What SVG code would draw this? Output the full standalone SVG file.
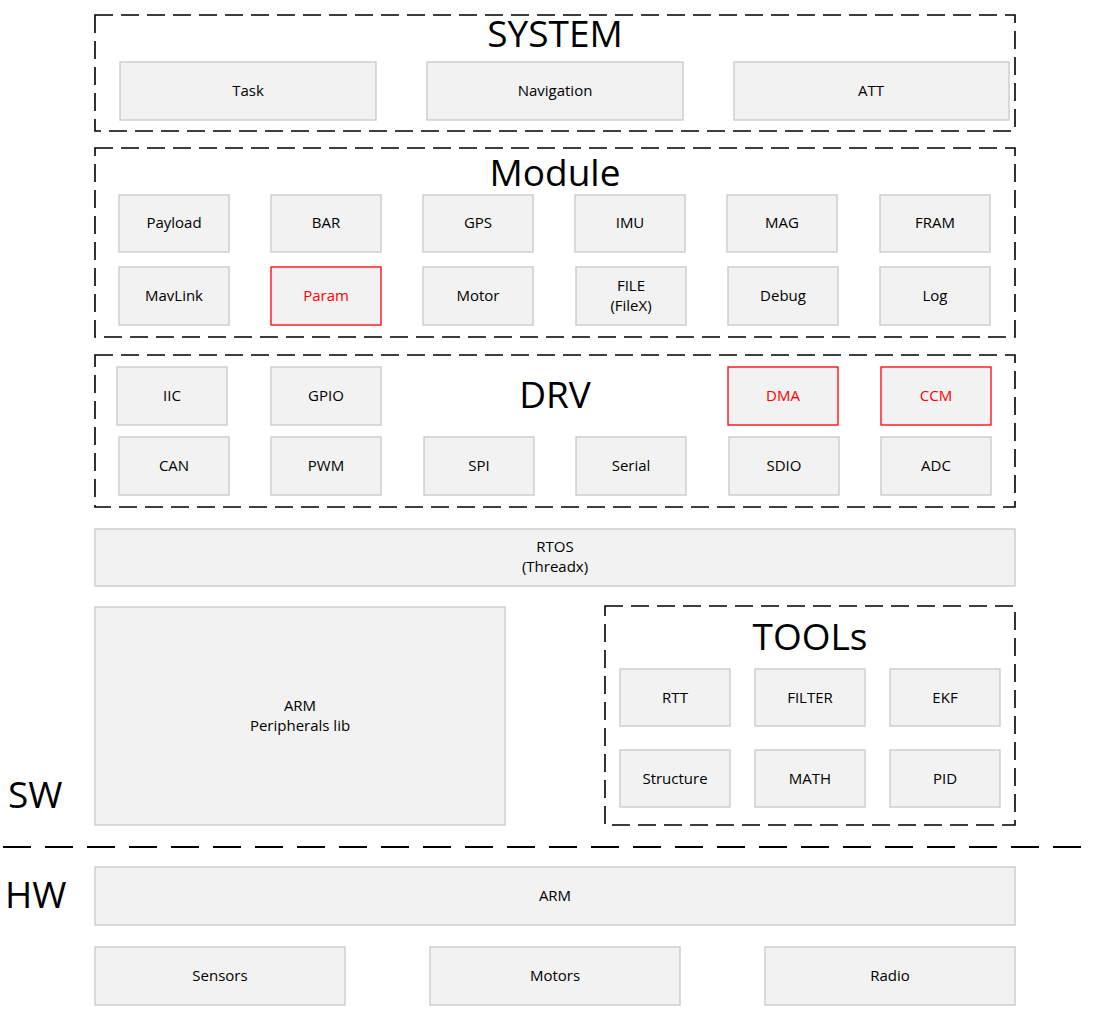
<svg xmlns="http://www.w3.org/2000/svg" width="1097" height="1011" viewBox="0 0 1097 1011">
<style>
.bg{fill:#ffffff}
.box{fill:#f2f2f2;stroke:#c8c8c8;stroke-width:1.3}
.red{fill:#f2f2f2;stroke:#ff0000;stroke-width:1.3}
.grp{fill:none;stroke:#000;stroke-width:1.6;stroke-dasharray:18 8}
.t{font-family:"Open Sans","Liberation Sans",sans-serif;font-size:15px;fill:#000;text-anchor:middle;dominant-baseline:central}
.tr{font-family:"Open Sans","Liberation Sans",sans-serif;font-size:15px;fill:#ff0000;text-anchor:middle;dominant-baseline:central}
.big{font-family:"Open Sans","Liberation Sans",sans-serif;font-size:37px;fill:#000;text-anchor:middle}
.side{font-family:"Open Sans","Liberation Sans",sans-serif;font-size:37px;fill:#000}
</style>
<rect class="bg" x="0" y="0" width="1097" height="1011"/>

<g id="system">
<rect class="grp" x="95" y="15" width="920" height="116"/>
<text class="big" x="555" y="47">SYSTEM</text>
</g>
<g id="task"><rect class="box" x="120" y="62" width="256" height="58"/><text class="t" x="248" y="90">Task</text></g>
<g id="navigation"><rect class="box" x="427" y="62" width="256" height="58"/><text class="t" x="555" y="90">Navigation</text></g>
<g id="att"><rect class="box" x="734" y="62" width="275" height="58"/><text class="t" x="871" y="90">ATT</text></g>

<g id="module">
<rect class="grp" x="95" y="148" width="920" height="189"/>
<text class="big" x="555" y="186">Module</text>
</g>
<g id="payload"><rect class="box" x="119" y="195" width="110" height="57"/><text class="t" x="174" y="222">Payload</text></g>
<g id="bar"><rect class="box" x="271" y="195" width="110" height="57"/><text class="t" x="326" y="222">BAR</text></g>
<g id="gps"><rect class="box" x="423" y="195" width="110" height="57"/><text class="t" x="478" y="222">GPS</text></g>
<g id="imu"><rect class="box" x="575" y="195" width="110" height="57"/><text class="t" x="630" y="222">IMU</text></g>
<g id="mag"><rect class="box" x="727" y="195" width="110" height="57"/><text class="t" x="782" y="222">MAG</text></g>
<g id="fram"><rect class="box" x="880" y="195" width="110" height="57"/><text class="t" x="935" y="222">FRAM</text></g>
<g id="mavlink"><rect class="box" x="119" y="267" width="110" height="58"/><text class="t" x="174" y="295">MavLink</text></g>
<g id="param"><rect class="red" x="271" y="267" width="110" height="58"/><text class="tr" x="326" y="295">Param</text></g>
<g id="motor"><rect class="box" x="423" y="267" width="110" height="58"/><text class="t" x="478" y="295">Motor</text></g>
<g id="file"><rect class="box" x="576" y="267" width="110" height="58"/><text class="t" x="631" y="285">FILE</text><text class="t" x="631" y="305">(FileX)</text></g>
<g id="debug"><rect class="box" x="728" y="267" width="110" height="58"/><text class="t" x="783" y="295">Debug</text></g>
<g id="log"><rect class="box" x="880" y="267" width="110" height="58"/><text class="t" x="935" y="295">Log</text></g>

<g id="drv">
<rect class="grp" x="95" y="355" width="920" height="152"/>
<text class="big" x="555" y="408">DRV</text>
</g>
<g id="iic"><rect class="box" x="117" y="367" width="110" height="58"/><text class="t" x="172" y="395">IIC</text></g>
<g id="gpio"><rect class="box" x="271" y="367" width="110" height="58"/><text class="t" x="326" y="395">GPIO</text></g>
<g id="dma"><rect class="red" x="728" y="367" width="110" height="58"/><text class="tr" x="783" y="395">DMA</text></g>
<g id="ccm"><rect class="red" x="881" y="367" width="110" height="58"/><text class="tr" x="936" y="395">CCM</text></g>
<g id="can"><rect class="box" x="119" y="437" width="110" height="58"/><text class="t" x="174" y="465">CAN</text></g>
<g id="pwm"><rect class="box" x="271" y="437" width="110" height="58"/><text class="t" x="326" y="465">PWM</text></g>
<g id="spi"><rect class="box" x="424" y="437" width="110" height="58"/><text class="t" x="479" y="465">SPI</text></g>
<g id="serial"><rect class="box" x="576" y="437" width="110" height="58"/><text class="t" x="631" y="465">Serial</text></g>
<g id="sdio"><rect class="box" x="729" y="437" width="110" height="58"/><text class="t" x="784" y="465">SDIO</text></g>
<g id="adc"><rect class="box" x="881" y="437" width="110" height="58"/><text class="t" x="936" y="465">ADC</text></g>

<g id="rtos"><rect class="box" x="95" y="529" width="920" height="57"/><text class="t" x="555" y="546">RTOS</text><text class="t" x="555" y="566">(Threadx)</text></g>

<g id="armlib"><rect class="box" x="95" y="607" width="410" height="218"/><text class="t" x="300" y="705">ARM</text><text class="t" x="300" y="725">Peripherals lib</text></g>

<g id="tools">
<rect class="grp" x="605" y="606" width="410" height="219"/>
<text class="big" x="810" y="650">TOOLs</text>
</g>
<g id="rtt"><rect class="box" x="620" y="669" width="110" height="57"/><text class="t" x="675" y="697">RTT</text></g>
<g id="filter"><rect class="box" x="755" y="669" width="110" height="57"/><text class="t" x="810" y="697">FILTER</text></g>
<g id="ekf"><rect class="box" x="890" y="669" width="110" height="57"/><text class="t" x="945" y="697">EKF</text></g>
<g id="structure"><rect class="box" x="620" y="750" width="110" height="57"/><text class="t" x="675" y="778">Structure</text></g>
<g id="math"><rect class="box" x="755" y="750" width="110" height="57"/><text class="t" x="810" y="778">MATH</text></g>
<g id="pid"><rect class="box" x="890" y="750" width="110" height="57"/><text class="t" x="945" y="778">PID</text></g>

<g id="sw"><text class="side" x="8" y="808">SW</text></g>
<g id="connectors">
<line x1="3" y1="847" x2="1092" y2="847" stroke="#000" stroke-width="2" stroke-dasharray="28 14"/>
</g>
<g id="hw"><text class="side" x="5" y="908">HW</text></g>

<g id="arm"><rect class="box" x="95" y="867" width="920" height="58"/><text class="t" x="555" y="895">ARM</text></g>
<g id="sensors"><rect class="box" x="95" y="947" width="250" height="58"/><text class="t" x="220" y="975">Sensors</text></g>
<g id="motors"><rect class="box" x="430" y="947" width="250" height="58"/><text class="t" x="555" y="975">Motors</text></g>
<g id="radio"><rect class="box" x="765" y="947" width="250" height="58"/><text class="t" x="890" y="975">Radio</text></g>
</svg>
